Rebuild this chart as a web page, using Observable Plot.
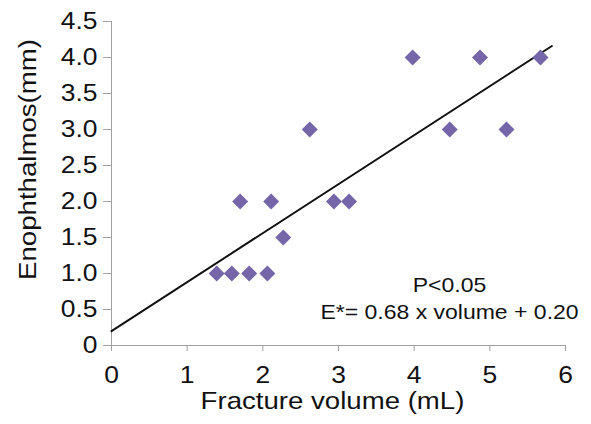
<!DOCTYPE html>
<html><head><meta charset="utf-8">
<script src="https://cdn.jsdelivr.net/npm/d3@7"></script>
<script src="https://cdn.jsdelivr.net/npm/@observablehq/plot@0.6"></script>
<style>body{margin:0;background:#fff}</style>
</head><body><div id="chart"></div>
<script>
// Data
const volume       = [1.39, 1.59, 1.82, 2.06, 1.70, 2.11, 2.27, 2.62, 2.94, 3.14, 3.98, 4.47, 4.87, 5.22, 5.67];
const enophthalmos = [1.0,  1.0,  1.0,  1.0,  2.0,  2.0,  1.5,  3.0,  2.0,  2.0,  4.0,  3.0,  4.0,  3.0,  4.0];
const fitVolume       = [0, 5.82];
const fitEnophthalmos = [0.20, 4.16];
const xTicks = [0, 1, 2, 3, 4, 5, 6];
const xTickLabels = ["0", "1", "2", "3", "4", "5", "6"];
const yTicks = [0, 0.5, 1, 1.5, 2, 2.5, 3, 3.5, 4, 4.5];
const yTickLabels = ["0", "0.5", "1.0", "1.5", "2.0", "2.5", "3.0", "3.5", "4.0", "4.5"];
const xTitle = "Fracture volume (mL)";
const yTitle = "Enophthalmos(mm)";
const annotationLines = ["P<0.05", "E*= 0.68 x volume + 0.20"];

const points = volume.map((v, i) => ({volume: v, enophthalmos: enophthalmos[i]}));
const fit = fitVolume.map((v, i) => ({volume: v, enophthalmos: fitEnophthalmos[i]}));

const axisGray = "#a0a0a0";
const ink = "#111";

const plot = Plot.plot({
  width: 591, height: 424,
  marginLeft: 111, marginRight: 26, marginTop: 21, marginBottom: 79,
  style: {fontFamily: "'Liberation Sans', Arial, sans-serif", background: "#fff", color: ink, overflow: "visible"},
  x: {domain: [0, 6]},
  y: {domain: [0, 4.5]},
  marks: [
    Plot.axisX(xTicks, {tickSize: 6, tickPadding: 15, fontSize: 23, stroke: axisGray, fill: ink,
      tickFormat: d => xTickLabels[xTicks.indexOf(d)], label: null}),
    Plot.axisY(yTicks, {tickSize: 8, tickPadding: 6, fontSize: 23, stroke: axisGray, fill: ink,
      tickFormat: d => yTickLabels[yTicks.indexOf(d)], label: null}),
    Plot.ruleX([0], {stroke: axisGray}),
    Plot.ruleY([0], {stroke: axisGray}),
    Plot.line(fit, {x: "volume", y: "enophthalmos", stroke: ink, strokeWidth: 2}),
    Plot.dot(points, {x: "volume", y: "enophthalmos", symbol: "diamond2", r: 7.2, fill: "#7466a8", stroke: "none"}),
    Plot.text([yTitle], {frameAnchor: "left", rotate: -90, dx: -76, dy: -24, lineAnchor: "bottom", textAnchor: "middle", fontSize: 24, fill: ink}),
    Plot.text([xTitle], {frameAnchor: "bottom", dx: -6, dy: 63, lineAnchor: "bottom", textAnchor: "middle", fontSize: 24, fill: ink}),
    Plot.text([annotationLines[0]], {frameAnchor: "bottom-right", dx: -116, dy: -54, lineAnchor: "bottom", textAnchor: "middle", fontSize: 20, fill: ink}),
    Plot.text([annotationLines[1]], {frameAnchor: "bottom-right", dx: -116, dy: -27, lineAnchor: "bottom", textAnchor: "middle", fontSize: 20, fill: ink})
  ]
});

// The reference typeface is wider than Arial; stretch glyphs horizontally around each anchor
plot.querySelectorAll("text").forEach(t => {
  const tr = t.getAttribute("transform") || "";
  t.setAttribute("transform", (tr + " scale(1.15,1)").trim());
});

document.getElementById("chart").appendChild(plot);
</script>
</body></html>
